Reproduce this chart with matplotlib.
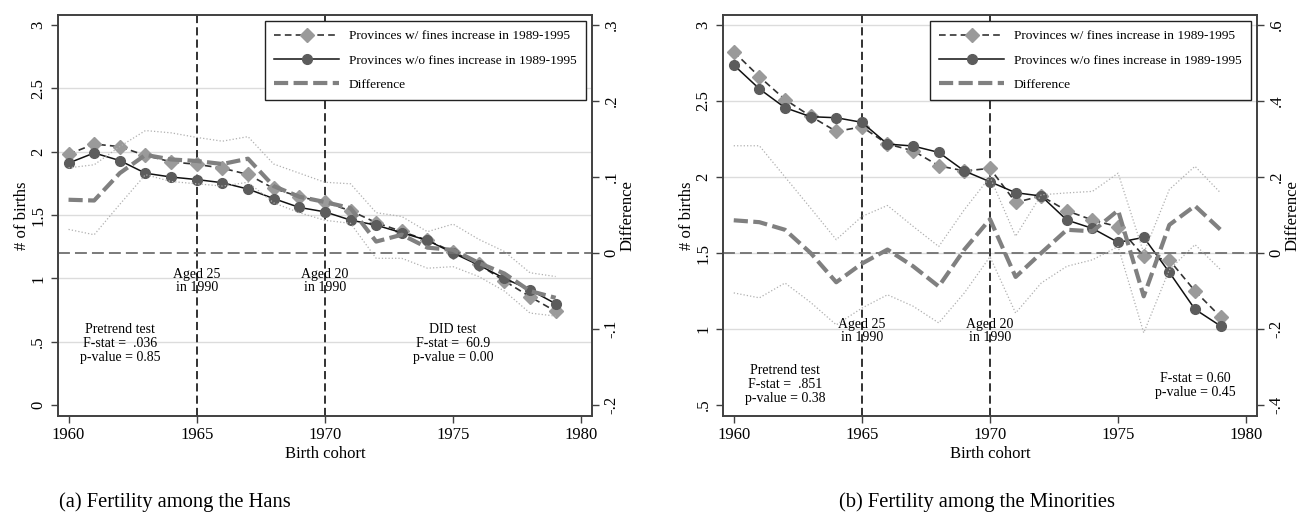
import matplotlib
matplotlib.use("Agg")
import matplotlib.pyplot as plt
from matplotlib.lines import Line2D

plt.rcParams["font.family"] = ["Liberation Serif", "DejaVu Serif"]

years = [1960, 1961, 1962, 1963, 1964, 1965, 1966, 1967, 1968, 1969,
         1970, 1971, 1972, 1973, 1974, 1975, 1976, 1977, 1978, 1979]

# (a) Hans
hans_with = [1.98, 2.06, 2.04, 1.97, 1.92, 1.90, 1.87, 1.82, 1.71, 1.645,
             1.60, 1.534, 1.44, 1.37, 1.30, 1.21, 1.11, 0.98, 0.855, 0.74]
hans_without = [1.91, 1.99, 1.93, 1.83, 1.80, 1.78, 1.755, 1.705, 1.63, 1.56,
                1.525, 1.46, 1.42, 1.36, 1.30, 1.20, 1.105, 1.00, 0.91, 0.80]
hans_diff = [0.070, 0.069, 0.105, 0.129, 0.123, 0.121, 0.117, 0.124, 0.088, 0.074,
             0.067, 0.059, 0.015, 0.024, 0.007, 0.004, -0.013, -0.027, -0.050, -0.059]
hans_upper = [0.112, 0.116, 0.140, 0.161, 0.158, 0.152, 0.147, 0.153, 0.117, 0.105,
              0.093, 0.091, 0.053, 0.048, 0.028, 0.038, 0.018, 0.002, -0.026, -0.031]
hans_lower = [0.031, 0.024, 0.064, 0.103, 0.094, 0.091, 0.088, 0.093, 0.066, 0.053,
              0.043, 0.039, -0.007, -0.007, -0.020, -0.018, -0.031, -0.050, -0.079, -0.083]

# (b) Minorities
min_with = [2.824, 2.66, 2.51, 2.40, 2.30, 2.33, 2.217, 2.173, 2.074, 2.04,
            2.057, 1.833, 1.875, 1.778, 1.717, 1.673, 1.48, 1.454, 1.25, 1.08]
min_without = [2.737, 2.58, 2.456, 2.397, 2.39, 2.36, 2.217, 2.204, 2.162, 2.04,
               1.969, 1.897, 1.875, 1.717, 1.662, 1.57, 1.603, 1.373, 1.13, 1.02]
min_diff = [0.086, 0.081, 0.061, 0.0, -0.077, -0.028, 0.009, -0.035, -0.088, 0.009,
            0.089, -0.063, 0.0, 0.061, 0.057, 0.112, -0.114, 0.074, 0.124, 0.061]
min_upper = [0.282, 0.282, 0.200, 0.118, 0.035, 0.096, 0.125, 0.070, 0.017, 0.114,
             0.200, 0.044, 0.153, 0.158, 0.162, 0.210, 0.000, 0.167, 0.228, 0.158]
min_lower = [-0.105, -0.118, -0.079, -0.130, -0.189, -0.145, -0.110, -0.140, -0.184, -0.105,
             -0.010, -0.158, -0.079, -0.035, -0.018, 0.017, -0.210, -0.044, 0.022, -0.044]

x_ticks = [1960, 1965, 1970, 1975, 1980]
event_years = [1965, 1970]
event_labels = ["Aged 25\nin 1990", "Aged 20\nin 1990"]

hans_yticks = [0, 0.5, 1, 1.5, 2, 2.5, 3]
hans_yticklabels = ["0", ".5", "1", "1.5", "2", "2.5", "3"]
hans_grid = [0.5, 1, 1.5, 2, 2.5]
hans_dticks = [-0.2, -0.1, 0, 0.1, 0.2, 0.3]
hans_dticklabels = ["-.2", "-.1", "0", ".1", ".2", ".3"]

min_yticks = [0.5, 1, 1.5, 2, 2.5, 3]
min_yticklabels = [".5", "1", "1.5", "2", "2.5", "3"]
min_grid = [1, 1.5, 2, 2.5, 3]
min_dticks = [-0.4, -0.2, 0, 0.2, 0.4, 0.6]
min_dticklabels = ["-.4", "-.2", "0", ".2", ".4", ".6"]

labels = ["Provinces w/ fines increase in 1989-1995",
          "Provinces w/o fines increase in 1989-1995",
          "Difference"]

C_DIAMOND = "#9a9a9a"
C_CIRCLE = "#5c5c5c"
C_DIFF = "#808080"
C_CI = "#b0b0b0"
C_FRAME = "#404040"

DIFF_DASH = (3.4, 1.3)
WITH_DASH = (4, 2.5)


def style_axis(ax, ticks, ticklabels):
    ax.set_yticks(ticks)
    ax.set_yticklabels(ticklabels, rotation=90, va="center")
    ax.tick_params(axis="both", length=5, width=1, color=C_FRAME, labelsize=12)
    for s in ax.spines.values():
        s.set_color(C_FRAME)
        s.set_linewidth(1.2)


def draw_panel(ax, with_vals, without_vals, diff, upper, lower,
               ylim, yticks, yticklabels, grid, dlim, dticks, dticklabels, texts):
    for g in grid:
        ax.axhline(g, color="#dcdcdc", lw=1, zorder=0)
    for yr in event_years:
        ax.axvline(yr, color="#222222", lw=1.3, dashes=(4.5, 2.3), zorder=1)

    ax.plot(years, with_vals, color="#333333", lw=1.2, dashes=WITH_DASH,
            marker="D", ms=7.5, mfc=C_DIAMOND, mec=C_DIAMOND, zorder=3)
    ax.plot(years, without_vals, color="#111111", lw=1.1,
            marker="o", ms=7, mfc=C_CIRCLE, mec=C_CIRCLE, zorder=3)

    ax.set_xlim(years[0] - 0.41, 1980.41)
    ax.set_ylim(ylim)
    ax.set_xticks(x_ticks)
    style_axis(ax, yticks, yticklabels)
    ax.set_xlabel("Birth cohort", fontsize=12, labelpad=2)
    ax.set_ylabel("# of births", fontsize=12, labelpad=0)

    ax2 = ax.twinx()
    ax2.axhline(0, color="#707070", lw=1.3, dashes=(6.6, 2.8), zorder=1)
    ax2.plot(years, upper, color=C_CI, lw=0.9, ls=":")
    ax2.plot(years, lower, color=C_CI, lw=0.9, ls=":")
    ax2.plot(years, diff, color=C_DIFF, lw=3, dashes=DIFF_DASH, zorder=2)
    ax2.set_ylim(dlim)
    style_axis(ax2, dticks, dticklabels)
    ax2.set_ylabel("Difference", fontsize=12, labelpad=0)

    for yr, lab, ypos in zip(event_years, event_labels, texts["event_y"]):
        ax.text(yr, ypos, lab, ha="center", va="top", fontsize=10, linespacing=1.0)
    for (tx, ty, s) in texts["stats"]:
        ax.text(tx, ty, s, ha="center", va="top", fontsize=10, linespacing=1.1)

    handles = [
        Line2D([], [], color="#333333", lw=1.2, dashes=WITH_DASH, marker="D", ms=7.5,
               mfc=C_DIAMOND, mec=C_DIAMOND),
        Line2D([], [], color="#111111", lw=1.1, marker="o", ms=7,
               mfc=C_CIRCLE, mec=C_CIRCLE),
        Line2D([], [], color=C_DIFF, lw=3, dashes=DIFF_DASH),
    ]
    leg = ax2.legend(handles, labels, loc="upper right", bbox_to_anchor=(0.989, 0.986),
                     borderaxespad=0, fancybox=False, framealpha=1, fontsize=9.6,
                     handlelength=4.9, handletextpad=0.7, labelspacing=0.9,
                     borderpad=0.7)
    leg.get_frame().set_edgecolor("#222222")
    leg.get_frame().set_linewidth(1.0)
    return ax2


def main():
    fig = plt.figure(figsize=(12.98, 5.24), dpi=100)
    ax_a = fig.add_axes([0.0447, 0.2067, 0.4112, 0.7647])
    ax_b = fig.add_axes([0.5572, 0.2067, 0.4110, 0.7647])

    hans_texts = {
        "event_y": [1.08, 1.08],
        "stats": [(1962, 0.645, "Pretrend test\nF-stat =  .036\np-value = 0.85"),
                  (1975, 0.645, "DID test\nF-stat =  60.9\np-value = 0.00")],
    }
    min_texts = {
        "event_y": [1.075, 1.075],
        "stats": [(1962, 0.77, "Pretrend test\nF-stat =  .851\np-value = 0.38"),
                  (1978, 0.72, "F-stat = 0.60\np-value = 0.45")],
    }

    draw_panel(ax_a, hans_with, hans_without, hans_diff, hans_upper, hans_lower,
               (-0.084, 3.079), hans_yticks, hans_yticklabels, hans_grid,
               (-0.214, 0.313), hans_dticks, hans_dticklabels, hans_texts)
    draw_panel(ax_b, min_with, min_without, min_diff, min_upper, min_lower,
               (0.43, 3.066), min_yticks, min_yticklabels, min_grid,
               (-0.428, 0.626), min_dticks, min_dticklabels, min_texts)

    fig.text(0.135, 0.033, "(a) Fertility among the Hans", ha="center", fontsize=14.8)
    fig.text(0.753, 0.033, "(b) Fertility among the Minorities", ha="center", fontsize=14.8)

    fig.savefig("out.png", dpi=100)
    plt.close(fig)


if __name__ == "__main__":
    main()
